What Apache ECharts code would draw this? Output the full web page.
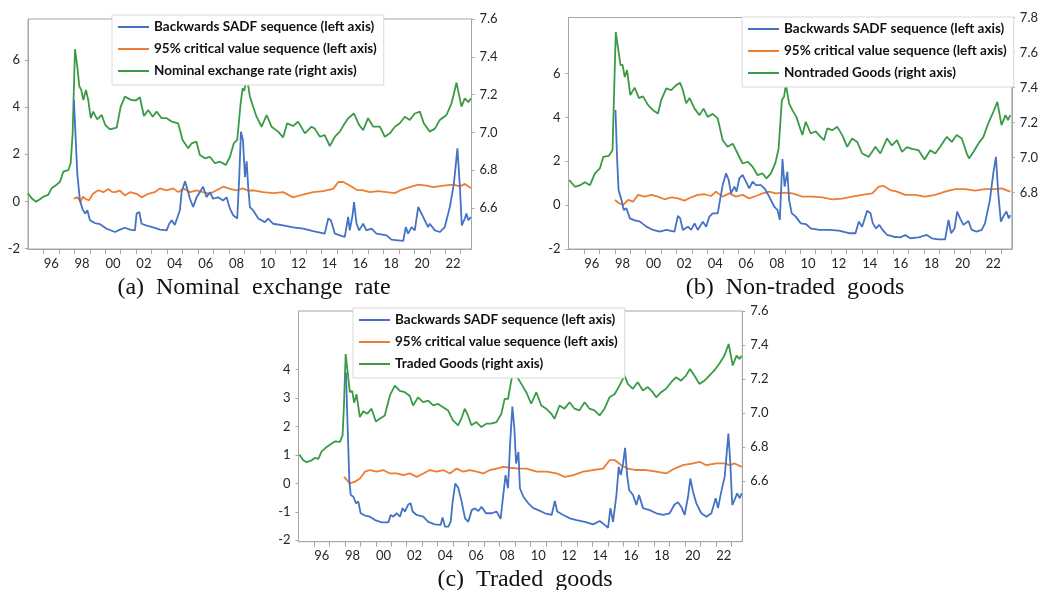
<!DOCTYPE html>
<html>
<head>
<meta charset="utf-8">
<script src="https://cdn.jsdelivr.net/npm/echarts@6/dist/echarts.min.js"></script>
<style>
  html, body { margin: 0; padding: 0; background: #fff; }
  #chart { width: 1041px; height: 590px; }
</style>
</head>
<body>
<div id="chart"></div>
<script>
// ---- data: [year, value] ----
const panelTitles = ['(a)  Nominal  exchange  rate', '(b)  Non-traded  goods', '(c)  Traded  goods']
const sadfName = 'Backwards SADF sequence (left axis)'
const critName = '95% critical value sequence (left axis)'
const priceNames = ['Nominal exchange rate (right axis)', 'Nontraded Goods (right axis)', 'Traded Goods (right axis)']

const yearTicks = [1996, 1997, 1998, 1999, 2000, 2001, 2002, 2003, 2004, 2005, 2006, 2007, 2008, 2009,
  2010, 2011, 2012, 2013, 2014, 2015, 2016, 2017, 2018, 2019, 2020, 2021, 2022, 2023]
const yearLabels = [1996.5, 1998.5, 2000.5, 2002.5, 2004.5, 2006.5, 2008.5, 2010.5, 2012.5, 2014.5,
  2016.5, 2018.5, 2020.5, 2022.5]

// (a) nominal exchange rate
const nerSadf = [[1997.97,4.3],[1998.19,1.17],[1998.36,0.04],[1998.54,-0.35],[1998.7,-0.52],[1998.84,-0.38],[1999.01,-0.8],
  [1999.33,-0.92],[1999.66,-0.97],[2000.09,-1.16],[2000.63,-1.3],[2000.95,-1.2],[2001.27,-1.12],[2001.6,-1.2],[2001.92,-1.23],
  [2002.03,-0.52],[2002.2,-0.45],[2002.35,-0.95],[2002.68,-1.03],[2003.1,-1.1],[2003.54,-1.2],[2003.97,-1.23],[2004.14,-0.95],
  [2004.3,-0.8],[2004.5,-1.0],[2004.83,-0.38],[2004.94,0.39],[2005.16,0.85],[2005.3,0.55],[2005.48,0.11],[2005.69,-0.24],
  [2005.91,0.17],[2006.12,0.39],[2006.33,0.62],[2006.56,0.18],[2006.77,0.39],[2006.98,0.11],[2007.3,0.17],[2007.63,0.04],
  [2007.85,0.17],[2008.07,-0.31],[2008.28,-0.59],[2008.54,-0.73],[2008.67,1.03],[2008.78,2.95],[2008.91,2.6],[2009.04,1.03],
  [2009.15,1.7],[2009.25,0.6],[2009.36,-0.24],[2009.57,-0.38],[2009.9,-0.73],[2010.33,-0.88],[2010.54,-0.73],[2010.87,-0.95],
  [2011.51,-1.02],[2012.16,-1.1],[2012.8,-1.16],[2013.45,-1.26],[2014.2,-1.37],[2014.43,-0.73],[2014.6,-0.8],[2014.86,-1.37],
  [2015.18,-1.44],[2015.5,-1.51],[2015.72,-0.66],[2015.82,-1.23],[2016.0,-0.6],[2016.1,-0.03],[2016.26,-0.95],[2016.43,-1.23],
  [2016.69,-0.95],[2016.9,-1.23],[2017.23,-1.16],[2017.55,-1.37],[2018.2,-1.44],[2018.52,-1.62],[2018.95,-1.65],[2019.28,-1.68],
  [2019.45,-1.09],[2019.6,-1.37],[2019.82,-1.09],[2020.03,-1.23],[2020.25,-0.24],[2020.36,-0.17],[2020.57,-0.66],[2020.89,-1.09],
  [2021.0,-0.95],[2021.33,-1.23],[2021.65,-1.3],[2021.97,-1.09],[2022.3,-0.24],[2022.56,0.75],[2022.79,2.25],[2022.95,0.6],
  [2023.07,-1.02],[2023.27,-0.73],[2023.37,-0.52],[2023.5,-0.8],[2023.65,-0.66]]
const nerCrit = [[1997.95,0.11],[1998.2,0.18],[1998.4,-0.03],[1998.55,0.2],[1998.7,0.11],[1998.95,0.04],[1999.2,0.32],[1999.55,0.47],
  [1999.87,0.39],[2000.2,0.52],[2000.45,0.4],[2000.63,0.39],[2000.95,0.45],[2001.27,0.25],[2001.6,0.39],[2002.03,0.32],
  [2002.35,0.17],[2002.78,0.32],[2003.2,0.39],[2003.54,0.55],[2003.97,0.47],[2004.4,0.55],[2004.72,0.39],[2005.05,0.55],
  [2005.48,0.39],[2005.91,0.47],[2006.33,0.39],[2006.77,0.32],[2007.2,0.47],[2007.63,0.62],[2008.07,0.53],[2008.5,0.47],
  [2008.91,0.55],[2009.25,0.45],[2009.57,0.47],[2010.22,0.39],[2010.87,0.35],[2011.51,0.39],[2012.16,0.17],[2012.8,0.29],
  [2013.45,0.39],[2014.1,0.43],[2014.75,0.53],[2015.08,0.82],[2015.4,0.82],[2015.82,0.67],[2016.26,0.49],[2016.69,0.47],
  [2017.12,0.39],[2017.66,0.43],[2018.2,0.39],[2018.74,0.35],[2019.17,0.49],[2019.71,0.6],[2020.25,0.71],[2020.79,0.67],
  [2021.22,0.6],[2021.87,0.67],[2022.52,0.71],[2022.95,0.63],[2023.27,0.74],[2023.65,0.57]]
const nerPrice = [[1995.0,6.678],[1995.25,6.65],[1995.52,6.633],[1995.75,6.645],[1996.0,6.66],[1996.3,6.669],[1996.53,6.704],
  [1996.8,6.72],[1997.07,6.739],[1997.28,6.792],[1997.61,6.8],[1997.76,6.837],[1997.89,6.995],[1998.04,7.44],[1998.19,7.348],
  [1998.32,7.245],[1998.45,7.224],[1998.58,7.171],[1998.75,7.224],[1998.9,7.171],[1999.06,7.075],[1999.22,7.11],[1999.48,7.069],
  [1999.77,7.092],[2000.0,7.039],[2000.3,7.016],[2000.74,7.025],[2001.0,7.136],[2001.27,7.189],[2001.7,7.171],[2002.0,7.17],
  [2002.24,7.186],[2002.5,7.087],[2002.78,7.118],[2003.07,7.083],[2003.32,7.11],[2003.65,7.075],[2003.97,7.075],[2004.3,7.057],
  [2004.72,7.048],[2005.0,6.96],[2005.37,6.916],[2005.59,6.942],[2005.9,6.951],[2006.12,6.88],[2006.45,6.863],[2006.77,6.871],
  [2007.1,6.837],[2007.42,6.845],[2007.81,6.828],[2008.07,6.871],[2008.32,6.942],[2008.54,6.96],[2008.76,7.154],[2008.89,7.233],
  [2009.0,7.22],[2009.15,7.3],[2009.36,7.189],[2009.57,7.136],[2009.79,7.083],[2010.12,7.03],[2010.44,7.092],[2010.76,7.03],
  [2011.19,7.004],[2011.51,6.974],[2011.77,7.048],[2012.16,7.034],[2012.48,7.057],[2012.92,6.995],[2013.35,7.03],[2013.56,7.02],
  [2013.89,6.977],[2014.2,6.986],[2014.53,6.928],[2014.86,6.977],[2015.18,7.004],[2015.5,7.048],[2015.72,7.075],[2016.09,7.1],
  [2016.43,7.039],[2016.69,7.012],[2017.01,7.075],[2017.34,7.03],[2017.77,7.03],[2018.09,6.977],[2018.42,6.995],[2018.74,7.03],
  [2019.06,7.048],[2019.39,7.083],[2019.71,7.066],[2020.03,7.1],[2020.36,7.11],[2020.61,7.048],[2021.0,7.004],[2021.33,7.02],
  [2021.65,7.066],[2022.08,7.092],[2022.41,7.154],[2022.73,7.263],[2023.05,7.136],[2023.27,7.18],[2023.5,7.16],[2023.65,7.18]]

// (b) non-traded goods
const ntSadf = [[1998.04,4.34],[1998.15,2.05],[1998.24,0.68],[1998.43,0.23],[1998.58,-0.23],[1998.75,-0.15],[1998.97,-0.61],
  [1999.28,-0.7],[1999.6,-0.75],[2000.04,-0.99],[2000.47,-1.14],[2000.9,-1.22],[2001.33,-1.14],[2001.86,-1.22],[2002.08,-0.5],
  [2002.23,-0.61],[2002.4,-1.14],[2002.73,-0.99],[2002.94,-1.14],[2003.16,-0.84],[2003.37,-1.14],[2003.7,-0.76],[2003.91,-0.99],
  [2004.12,-0.53],[2004.33,-0.38],[2004.66,-0.38],[2004.81,0.23],[2004.98,0.91],[2005.2,1.45],[2005.37,1.14],[2005.52,0.53],
  [2005.74,0.84],[2005.88,0.61],[2006.06,1.22],[2006.27,1.37],[2006.49,1.07],[2006.7,0.76],[2006.92,1.07],[2007.14,0.91],
  [2007.46,0.91],[2007.73,0.72],[2007.99,0.38],[2008.32,-0.08],[2008.53,-0.23],[2008.68,-0.68],[2008.85,2.1],[2008.99,0.84],
  [2009.17,1.52],[2009.28,0.23],[2009.45,-0.38],[2009.71,-0.53],[2010.04,-0.84],[2010.36,-0.87],[2010.68,-1.07],[2011.22,-1.14],
  [2011.86,-1.14],[2012.5,-1.17],[2013.15,-1.29],[2013.58,-1.29],[2013.79,-0.76],[2014.01,-0.99],[2014.33,-0.26],[2014.55,-0.38],
  [2014.7,-0.84],[2014.91,-1.07],[2015.12,-0.91],[2015.34,-1.14],[2015.62,-1.37],[2016.05,-1.45],[2016.48,-1.48],[2016.8,-1.37],
  [2017.12,-1.52],[2017.66,-1.48],[2018.2,-1.37],[2018.52,-1.52],[2018.95,-1.57],[2019.38,-1.57],[2019.6,-0.68],[2019.77,-1.29],
  [2019.99,-1.07],[2020.16,-0.3],[2020.35,-0.61],[2020.57,-0.91],[2020.89,-0.73],[2021.1,-1.14],[2021.42,-1.22],[2021.75,-1.14],
  [2021.96,-0.84],[2022.28,0.23],[2022.5,1.45],[2022.67,2.2],[2022.82,0.53],[2022.99,-0.76],[2023.2,-0.46],[2023.35,-0.3],
  [2023.5,-0.61],[2023.6,-0.46]]
const ntCrit = [[1998.0,0.23],[1998.28,0.08],[1998.54,0.0],[1998.86,0.23],[1999.18,0.15],[1999.5,0.46],[1999.93,0.38],
  [2000.36,0.46],[2000.79,0.38],[2001.22,0.26],[2001.65,0.35],[2002.08,0.3],[2002.51,0.2],[2002.94,0.35],[2003.37,0.46],
  [2003.8,0.49],[2004.23,0.41],[2004.55,0.61],[2004.98,0.38],[2005.41,0.53],[2005.84,0.38],[2006.27,0.46],[2006.7,0.3],
  [2007.14,0.41],[2007.56,0.53],[2007.99,0.61],[2008.42,0.53],[2008.96,0.56],[2009.5,0.53],[2010.14,0.38],[2010.79,0.38],
  [2011.43,0.35],[2012.07,0.26],[2012.72,0.29],[2013.36,0.38],[2014.01,0.46],[2014.66,0.53],[2015.08,0.84],[2015.4,0.87],
  [2015.83,0.68],[2016.26,0.61],[2016.8,0.46],[2017.44,0.46],[2018.09,0.38],[2018.74,0.46],[2019.38,0.61],[2020.03,0.72],
  [2020.67,0.72],[2021.32,0.66],[2021.96,0.72],[2022.6,0.72],[2023.03,0.76],[2023.6,0.61]]
const ntPrice = [[1995.05,6.872],[1995.42,6.834],[1995.75,6.843],[1996.06,6.86],[1996.39,6.843],[1996.71,6.91],[1997.03,6.939],
  [1997.25,7.005],[1997.6,7.01],[1997.85,7.043],[1998.06,7.717],[1998.2,7.63],[1998.37,7.528],[1998.5,7.53],[1998.64,7.46],
  [1998.79,7.5],[1999.0,7.357],[1999.28,7.4],[1999.56,7.34],[1999.82,7.35],[2000.15,7.3],[2000.47,7.271],[2000.79,7.252],
  [2001.0,7.328],[2001.33,7.395],[2001.65,7.386],[2001.97,7.414],[2002.23,7.427],[2002.4,7.386],[2002.62,7.31],[2002.84,7.34],
  [2003.16,7.28],[2003.48,7.243],[2003.74,7.28],[2004.01,7.233],[2004.33,7.25],[2004.66,7.224],[2004.98,7.1],[2005.3,7.062],
  [2005.63,7.08],[2005.95,7.024],[2006.27,6.967],[2006.6,6.977],[2006.92,6.948],[2007.24,6.9],[2007.56,6.91],[2007.82,6.882],
  [2008.1,6.91],[2008.38,6.967],[2008.6,7.05],[2008.81,7.328],[2008.96,7.35],[2009.07,7.42],[2009.28,7.31],[2009.5,7.27],
  [2009.75,7.233],[2010.14,7.129],[2010.36,7.205],[2010.68,7.138],[2011.0,7.15],[2011.32,7.119],[2011.54,7.1],[2011.75,7.167],
  [2012.07,7.157],[2012.4,7.176],[2012.72,7.129],[2013.04,7.062],[2013.36,7.11],[2013.69,7.09],[2014.01,7.024],[2014.44,7.005],
  [2014.87,7.062],[2015.19,7.024],[2015.62,7.11],[2015.94,7.07],[2016.26,7.1],[2016.59,7.033],[2016.91,7.06],[2017.23,7.05],
  [2017.66,7.043],[2018.05,6.99],[2018.42,7.043],[2018.74,7.024],[2019.06,7.062],[2019.49,7.119],[2019.81,7.09],[2020.13,7.129],
  [2020.46,7.11],[2020.78,7.024],[2020.93,6.996],[2021.21,7.033],[2021.53,7.08],[2021.86,7.119],[2022.17,7.195],[2022.5,7.262],
  [2022.76,7.319],[2023.03,7.186],[2023.29,7.243],[2023.45,7.215],[2023.6,7.243]]

// (c) traded goods
const trSadf = [[1998.07,3.9],[1998.18,1.93],[1998.29,0.06],[1998.38,-0.41],[1998.55,-0.47],[1998.72,-0.7],[1998.87,-0.64],
  [1999.02,-1.05],[1999.3,-1.13],[1999.62,-1.17],[1999.95,-1.29],[2000.38,-1.37],[2000.81,-1.37],[2000.96,-1.11],[2001.13,-1.17],
  [2001.35,-1.05],[2001.56,-1.17],[2001.73,-0.87],[2001.88,-0.99],[2002.1,-0.74],[2002.25,-0.7],[2002.38,-0.99],[2002.64,-1.11],
  [2003.07,-1.17],[2003.39,-1.35],[2003.82,-1.44],[2004.19,-1.46],[2004.32,-1.2],[2004.47,-1.52],[2004.69,-1.52],[2004.84,-1.35],
  [2004.97,-0.64],[2005.14,0.0],[2005.34,-0.17],[2005.55,-0.64],[2005.77,-1.23],[2005.98,-1.35],[2006.2,-0.94],[2006.41,-0.88],
  [2006.63,-0.97],[2006.84,-0.82],[2007.12,-1.05],[2007.49,-1.05],[2007.81,-0.99],[2008.07,-1.25],[2008.24,-0.41],[2008.39,0.29],
  [2008.55,-0.17],[2008.68,1.35],[2008.83,2.7],[2008.96,1.93],[2009.07,0.7],[2009.22,1.11],[2009.32,-0.17],[2009.54,-0.47],
  [2009.86,-0.7],[2010.19,-0.87],[2010.51,-0.94],[2010.94,-1.05],[2011.37,-1.11],[2011.58,-0.62],[2011.73,-0.99],[2012.12,-1.11],
  [2012.55,-1.23],[2012.98,-1.29],[2013.52,-1.35],[2014.05,-1.44],[2014.48,-1.32],[2014.8,-1.46],[2015.02,-1.56],[2015.17,-0.87],
  [2015.34,-1.35],[2015.56,-0.41],[2015.71,0.58],[2015.84,0.29],[2015.99,0.7],[2016.12,1.25],[2016.25,0.29],[2016.38,-0.23],
  [2016.63,-0.41],[2016.85,-0.76],[2017.02,-0.41],[2017.28,-0.87],[2017.71,-0.94],[2018.14,-1.05],[2018.57,-1.11],[2019.0,-1.05],
  [2019.32,-0.74],[2019.54,-0.66],[2019.75,-0.82],[2019.97,-1.11],[2020.19,-0.47],[2020.34,0.17],[2020.51,-0.29],[2020.73,-0.7],
  [2021.05,-1.05],[2021.38,-1.17],[2021.7,-1.05],[2021.98,-0.52],[2022.13,-0.87],[2022.34,-0.29],[2022.56,0.23],[2022.8,1.75],
  [2022.92,0.76],[2023.05,-0.76],[2023.2,-0.58],[2023.37,-0.35],[2023.53,-0.52],[2023.66,-0.35]]
const trCrit = [[1997.94,0.23],[1998.12,0.12],[1998.33,0.0],[1998.65,0.06],[1998.97,0.17],[1999.3,0.41],[1999.62,0.47],
  [2000.05,0.41],[2000.48,0.47],[2000.91,0.35],[2001.35,0.35],[2001.78,0.29],[2002.2,0.35],[2002.64,0.23],[2003.07,0.35],
  [2003.5,0.47],[2003.93,0.41],[2004.36,0.47],[2004.79,0.35],[2005.23,0.52],[2005.66,0.41],[2006.09,0.47],[2006.52,0.41],
  [2006.95,0.35],[2007.38,0.47],[2007.81,0.52],[2008.24,0.58],[2008.68,0.55],[2009.22,0.52],[2009.75,0.52],[2010.4,0.41],
  [2011.04,0.41],[2011.69,0.35],[2012.23,0.23],[2012.77,0.29],[2013.41,0.41],[2014.06,0.47],[2014.7,0.52],[2015.13,0.82],
  [2015.45,0.82],[2015.88,0.64],[2016.31,0.52],[2016.85,0.47],[2017.49,0.47],[2018.14,0.41],[2018.78,0.35],[2019.32,0.52],
  [2019.86,0.64],[2020.51,0.7],[2020.94,0.76],[2021.37,0.64],[2022.02,0.7],[2022.56,0.7],[2022.88,0.64],[2023.2,0.7],[2023.66,0.58]]
const trPrice = [[1995.05,6.755],[1995.31,6.721],[1995.52,6.71],[1995.85,6.721],[1996.06,6.735],[1996.28,6.73],[1996.5,6.774],
  [1996.82,6.8],[1997.15,6.82],[1997.37,6.833],[1997.69,6.83],[1997.85,6.868],[1997.94,7.044],[1998.05,7.347],[1998.18,7.24],
  [1998.32,7.122],[1998.47,7.13],[1998.6,7.06],[1998.75,7.11],[1998.97,6.975],[1999.19,7.01],[1999.45,6.995],[1999.72,7.025],
  [2000.0,6.95],[2000.26,6.966],[2000.58,6.985],[2000.91,7.103],[2001.23,7.161],[2001.55,7.13],[2001.88,7.122],[2002.2,7.1],
  [2002.41,7.044],[2002.74,7.092],[2003.06,7.063],[2003.39,7.072],[2003.71,7.044],[2004.03,7.053],[2004.35,7.034],[2004.67,7.015],
  [2004.99,6.956],[2005.32,6.927],[2005.53,6.966],[2005.75,7.025],[2005.96,6.985],[2006.18,6.927],[2006.5,6.946],[2006.83,6.917],
  [2007.15,6.937],[2007.47,6.937],[2007.8,6.946],[2008.12,6.995],[2008.33,7.083],[2008.55,7.083],[2008.7,7.161],[2008.95,7.28],
  [2009.19,7.204],[2009.41,7.171],[2009.73,7.122],[2010.05,7.054],[2010.38,7.122],[2010.7,7.044],[2011.02,7.025],[2011.35,6.995],
  [2011.56,6.966],[2011.88,7.044],[2012.2,7.025],[2012.53,7.063],[2012.85,7.025],[2013.17,7.015],[2013.5,7.063],[2013.82,7.025],
  [2014.14,7.015],[2014.47,6.985],[2014.79,7.025],[2015.11,7.092],[2015.44,7.11],[2015.76,7.161],[2016.08,7.22],[2016.3,7.171],
  [2016.62,7.142],[2016.94,7.181],[2017.27,7.132],[2017.59,7.152],[2017.91,7.122],[2018.13,7.092],[2018.45,7.122],[2018.77,7.142],
  [2019.1,7.181],[2019.42,7.21],[2019.74,7.19],[2020.06,7.22],[2020.32,7.259],[2020.6,7.22],[2020.92,7.171],[2021.25,7.19],
  [2021.57,7.22],[2021.89,7.25],[2022.21,7.29],[2022.54,7.337],[2022.82,7.406],[2023.08,7.279],[2023.33,7.337],[2023.51,7.318],
  [2023.66,7.337]]

const leftTicks = [[-2, 0, 2, 4, 6], [-2, 0, 2, 4, 6], [-2, -1, 0, 1, 2, 3, 4]]
const rightTicks = [[6.6, 6.8, 7.0, 7.2, 7.4, 7.6], [6.8, 7.0, 7.2, 7.4, 7.6, 7.8], [6.6, 6.8, 7.0, 7.2, 7.4, 7.6]]

const panelData = [
  [nerSadf, nerCrit, nerPrice],
  [ntSadf, ntCrit, ntPrice],
  [trSadf, trCrit, trPrice],
]

// ---- layout ----
const BLUE = '#4472c4'
const ORANGE = '#ed7d31'
const GREEN = '#3a9a46'
const AXIS = '#a6a6a6'
const LABEL_FONT = 'Lato'

const grids = [
  { left: 28, top: 19, width: 443.5, height: 230 },
  { left: 568.5, top: 17.5, width: 443.8, height: 231.5 },
  { left: 298.5, top: 311, width: 443.8, height: 230.7 },
]
const leftRange = [[-2.02, 7.73], [-2.01, 8.56], [-2.05, 6.06]]
const rightRange = [[6.383, 7.6], [6.479, 7.8], [6.242, 7.6]]
const legendPos = [
  { left: 112, top: 15 },
  { left: 742, top: 17 },
  { left: 353, top: 308 },
]
const titlePos = [
  { x: 254, y: 276 },
  { x: 795, y: 276 },
  { x: 525, y: 568 },
]

const labelStyle = { fontFamily: LABEL_FONT, fontSize: 13, color: '#262626' }

const chart = echarts.init(document.getElementById('chart'), null, { renderer: 'canvas' })

const xAxis = grids.map((g, i) => ({
  type: 'value',
  gridIndex: i,
  min: 1995,
  max: 2023.7,
  axisLine: { show: true, onZero: false, lineStyle: { color: AXIS, width: 1 } },
  axisTick: { show: true, customValues: yearTicks, length: 5, lineStyle: { color: AXIS } },
  axisLabel: {
    ...labelStyle,
    customValues: yearLabels,
    margin: 8,
    formatter: (v) => String(Math.floor(v)).slice(2),
  },
  splitLine: { show: false },
}))

const yAxis = []
grids.forEach((g, i) => {
  yAxis.push({
    type: 'value',
    gridIndex: i,
    position: 'left',
    min: leftRange[i][0],
    max: leftRange[i][1],
    axisLine: { show: true, onZero: false, lineStyle: { color: AXIS } },
    axisTick: { show: true, customValues: leftTicks[i], length: 3, lineStyle: { color: AXIS } },
    axisLabel: { ...labelStyle, customValues: leftTicks[i], margin: 8, formatter: (v) => String(Math.round(v)) },
    splitLine: { show: false },
  })
  yAxis.push({
    type: 'value',
    gridIndex: i,
    position: 'right',
    min: rightRange[i][0],
    max: rightRange[i][1],
    axisLine: { show: true, onZero: false, lineStyle: { color: AXIS } },
    axisTick: { show: true, customValues: rightTicks[i], length: 3, lineStyle: { color: AXIS } },
    axisLabel: { ...labelStyle, customValues: rightTicks[i], margin: 8, formatter: (v) => v.toFixed(1) },
    splitLine: { show: false },
  })
})

const series = []
panelData.forEach((arrs, i) => {
  const names = [sadfName, critName, priceNames[i]]
  const colors = [BLUE, ORANGE, GREEN]
  // green first so the left-axis lines sit on top of it
  ;[2, 1, 0].forEach((k) => {
    series.push({
      name: names[k],
      type: 'line',
      xAxisIndex: i,
      yAxisIndex: k === 2 ? i * 2 + 1 : i * 2,
      data: arrs[k],
      showSymbol: false,
      symbol: 'none',
      color: colors[k],
      lineStyle: { color: colors[k], width: 1.8 },
      animation: false,
    })
  })
})

const legend = legendPos.map((p, i) => ({
  orient: 'vertical',
  left: p.left,
  top: p.top,
  padding: [4, 7, 6, 6],
  itemGap: 6,
  itemWidth: 31,
  itemHeight: 2,
  icon: 'rect',
  selectedMode: false,
  backgroundColor: '#fff',
  borderColor: '#d9d9d9',
  borderWidth: 1,
  textStyle: { fontFamily: LABEL_FONT, fontWeight: 'bold', fontSize: 13.5, color: '#111', lineHeight: 16 },
  data: [sadfName, critName, priceNames[i]],
}))

const title = titlePos.map((p, i) => ({
  text: panelTitles[i],
  left: p.x,
  top: p.y,
  textAlign: 'center',
  padding: 0,
  textStyle: { fontFamily: 'Liberation Serif', fontWeight: 'normal', fontSize: 24, color: '#111' },
}))

chart.setOption({
  backgroundColor: '#fff',
  animation: false,
  title,
  legend,
  grid: grids.map((g) => ({ ...g, show: true, borderColor: AXIS, borderWidth: 1, containLabel: false })),
  xAxis,
  yAxis,
  series,
})
</script>
</body>
</html>
